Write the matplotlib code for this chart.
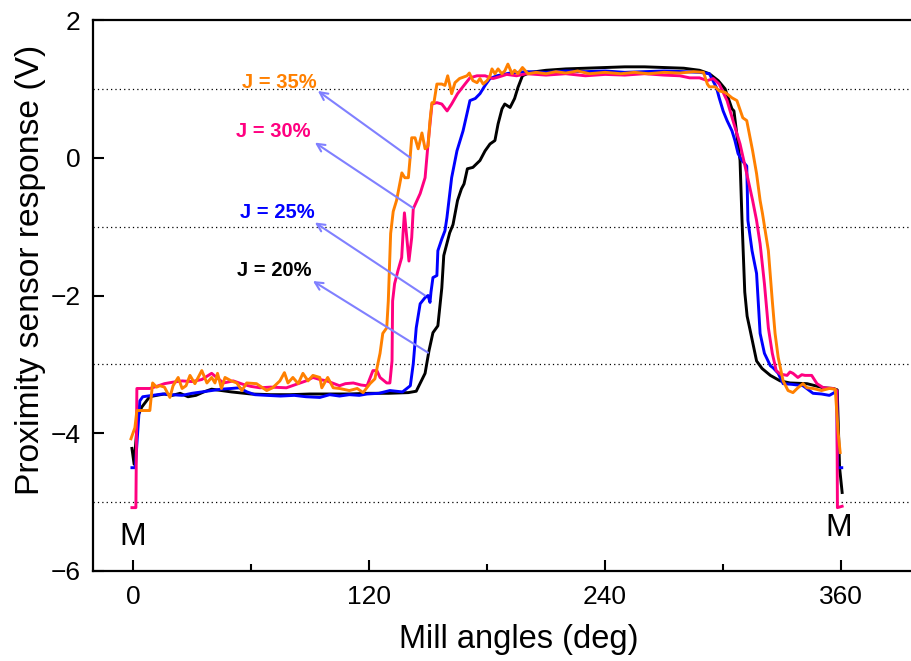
import matplotlib
matplotlib.use('Agg')
import matplotlib.pyplot as plt

plt.rcParams['font.family'] = ['Liberation Sans', 'DejaVu Sans']

# J = 20% (black)
ang20 = [-0.5, 0.6, 2.5, 4.5, 8.5, 12, 16, 20, 24, 28, 32, 36, 40, 45, 50, 60, 70, 80, 90,
         100, 110, 120, 130, 140, 144, 148.5, 150.5, 152.5, 155, 157, 158, 161, 162.7, 165,
         167, 168.3, 170, 172.8, 176.4, 179, 181.5, 184, 185.6, 187.6, 189, 191.7, 194, 195.7,
         198, 202, 210, 220, 230, 240, 250, 260, 270, 280, 288, 293, 297.5, 301, 304.5, 305.5,
         308.6, 309.6, 311, 312.2, 313.7, 317, 319.8, 324, 329, 334, 342.6, 351, 356, 358,
         359.2, 360.5]
v20 = [-4.22, -4.45, -3.75, -3.62, -3.47, -3.45, -3.43, -3.45, -3.42, -3.47, -3.45, -3.40,
       -3.36, -3.38, -3.40, -3.43, -3.44, -3.44, -3.43, -3.43, -3.43, -3.42, -3.42, -3.41,
       -3.39, -3.13, -2.80, -2.54, -2.44, -1.89, -1.42, -1.09, -0.97, -0.62, -0.45, -0.38,
       -0.16, -0.14, -0.04, 0.10, 0.20, 0.25, 0.49, 0.71, 0.78, 0.73, 0.86, 1.02, 1.19, 1.24,
       1.27, 1.29, 1.30, 1.31, 1.32, 1.32, 1.31, 1.30, 1.27, 1.22, 1.12, 1.00, 0.71, 0.68,
       -0.04, -0.91, -1.95, -2.30, -2.50, -2.95, -3.06, -3.16, -3.24, -3.27, -3.28, -3.34,
       -3.35, -3.37, -4.50, -4.86]

# J = 25% (blue)
ang25 = [-0.5, 1.2, 3.5, 5, 10, 15, 20, 25, 30, 35, 40, 45, 50, 54, 58, 62, 68, 75, 82, 88,
         95, 100, 105, 110, 115, 119, 125, 130.6, 137, 141, 142.5, 144, 146, 148.5, 150, 151,
         151.5, 152.5, 154.5, 155, 157, 158.6, 159.6, 162, 164.7, 167.8, 169.8, 171.3, 174,
         176.4, 179, 181.5, 185, 191.7, 200, 210, 220, 230, 240, 250, 260, 270, 280, 288, 293,
         296.6, 298, 300, 302, 304.5, 306, 307.6, 309.6, 312, 312.3, 312.6, 314.7, 317, 318.8,
         321, 324, 325.4, 328, 330.5, 335, 340.6, 345.7, 350, 354, 356.5, 357.8, 358.2, 360.3]
v25 = [-4.50, -4.50, -3.53, -3.47, -3.45, -3.43, -3.44, -3.45, -3.42, -3.40, -3.38, -3.36,
       -3.35, -3.34, -3.40, -3.44, -3.45, -3.46, -3.45, -3.47, -3.48, -3.44, -3.46, -3.44,
       -3.45, -3.43, -3.42, -3.38, -3.40, -3.31, -2.99, -2.47, -2.12, -2.03, -2.00, -2.10,
       -1.95, -1.74, -1.71, -1.35, -1.18, -1.06, -0.87, -0.29, 0.10, 0.39, 0.64, 0.83, 0.86,
       0.93, 1.05, 1.15, 1.19, 1.23, 1.25, 1.24, 1.26, 1.25, 1.26, 1.24, 1.25, 1.26, 1.25,
       1.24, 1.22, 1.02, 0.87, 0.68, 0.54, 0.39, 0.25, 0.06, -0.04, -0.12, -0.50, -0.91,
       -1.35, -1.68, -2.55, -2.84, -3.02, -3.05, -3.13, -3.28, -3.29, -3.31, -3.42, -3.43,
       -3.45, -3.41, -3.40, -4.50, -4.50]

# J = 30% (pink)
ang30 = [-0.5, 1.5, 2.0, 5, 8.6, 12, 16, 20, 25, 30, 35, 40, 43, 46, 51, 56, 60, 64.6, 70, 78,
         85, 88, 91.5, 95, 98.6, 105, 108, 112, 116, 119, 122, 124, 125.6, 129, 130.6, 131.7,
         132, 133, 134.7, 136.6, 137.3, 138, 139.5, 140.3, 141.7, 142.5, 146, 148.5, 150, 152,
         154.5, 157, 159.7, 162, 165, 168.8, 171.3, 174.9, 179, 183, 185.6, 190, 195, 200, 210,
         220, 230, 240, 250, 260, 270, 278, 283, 288, 292, 295, 298, 302, 305, 308.6, 312, 315,
         317, 318.8, 321, 323, 325, 327, 329, 332.5, 334, 335.5, 338, 340, 341.6, 345, 347.7,
         351, 356, 357.8, 358.1, 360.5]
v30 = [-5.08, -5.08, -3.35, -3.35, -3.35, -3.32, -3.28, -3.26, -3.24, -3.25, -3.22, -3.13,
       -3.20, -3.27, -3.24, -3.29, -3.32, -3.34, -3.33, -3.34, -3.27, -3.24, -3.19, -3.22,
       -3.24, -3.31, -3.28, -3.27, -3.30, -3.31, -3.09, -3.09, -3.19, -3.27, -3.27, -2.95,
       -2.08, -1.83, -1.64, -1.45, -1.10, -0.80, -1.25, -1.50, -1.16, -0.74, -0.52, -0.29,
       0.20, 0.78, 0.80, 0.78, 0.68, 0.78, 0.93, 1.07, 1.16, 1.19, 1.19, 1.15, 1.17, 1.21,
       1.19, 1.22, 1.20, 1.22, 1.19, 1.21, 1.20, 1.22, 1.20, 1.19, 1.16, 1.16, 1.12, 1.15,
       1.07, 0.83, 0.54, 0.20, -0.23, -0.62, -0.91, -1.25, -1.83, -2.47, -2.84, -3.09, -3.14,
       -3.16, -3.11, -3.13, -3.19, -3.15, -3.16, -3.16, -3.28, -3.34, -3.35, -3.38, -5.08,
       -5.06]

# J = 35% (orange)
ang35 = [-1, 1, 2, 5, 8.6, 10, 12, 13.7, 16, 18.8, 20.4, 23, 25, 27, 29, 31.5, 35, 37.6, 40,
         41.7, 43, 45, 46.8, 50, 52.8, 55.4, 57.8, 62.8, 68, 71, 74.7, 77, 78.8, 81.3, 84,
         86.4, 89, 91.5, 95, 96, 99, 101.8, 105, 110, 114, 117, 120.5, 123, 124.5, 125.6, 127,
         129, 129.8, 130.6, 131, 132.3, 134, 136.7, 138.2, 140, 140.9, 141.7, 143.4, 145,
         146.9, 148.5, 150, 151, 152, 153, 154.5, 157, 158.6, 160, 162, 163.7, 166, 169.8,
         171, 172.8, 174.9, 176.4, 178, 180, 181.5, 182.5, 184, 185.6, 187.5, 189, 190.6,
         192.7, 194, 195.7, 198, 200.8, 205, 210, 215, 220, 226, 232, 240, 248, 255, 262, 270,
         278, 285, 290, 292, 293, 296, 298, 301, 304.5, 307, 310, 312, 315, 317, 318.8, 320,
         323, 325, 326.4, 328, 330.5, 333, 335.5, 338, 340.6, 342.6, 345.7, 350, 354, 357,
         358.5, 359.5]
v35 = [-4.08, -3.92, -3.67, -3.67, -3.67, -3.27, -3.33, -3.31, -3.33, -3.48, -3.31, -3.19,
       -3.35, -3.31, -3.16, -3.28, -3.09, -3.27, -3.19, -3.27, -3.13, -3.35, -3.19, -3.24,
       -3.27, -3.38, -3.27, -3.28, -3.38, -3.34, -3.24, -3.12, -3.27, -3.19, -3.28, -3.13,
       -3.24, -3.16, -3.19, -3.34, -3.19, -3.34, -3.35, -3.38, -3.35, -3.41, -3.28, -3.21,
       -2.99, -2.84, -2.55, -2.47, -2.08, -1.45, -1.10, -0.78, -0.62, -0.22, -0.29, -0.29,
       0.00, 0.29, 0.29, 0.13, 0.36, 0.13, 0.17, 0.54, 0.80, 0.80, 1.07, 1.07, 1.05, 1.19,
       0.93, 1.09, 1.15, 1.19, 1.23, 1.12, 1.09, 1.15, 1.07, 1.12, 1.19, 1.29, 1.22, 1.29,
       1.22, 1.26, 1.36, 1.22, 1.27, 1.22, 1.31, 1.22, 1.24, 1.22, 1.25, 1.23, 1.26, 1.22,
       1.24, 1.22, 1.24, 1.22, 1.24, 1.23, 1.25, 1.24, 1.07, 1.03, 1.03, 0.97, 0.95, 0.87,
       0.83, 0.58, 0.54, 0.10, -0.23, -0.62, -0.81, -1.35, -2.08, -2.55, -2.90, -3.24, -3.38,
       -3.41, -3.34, -3.28, -3.34, -3.35, -3.38, -3.35, -3.36, -4.00, -4.28]

series = [(ang20, v20, '#000000'), (ang25, v25, '#0000FF'),
          (ang30, v30, '#FF0080'), (ang35, v35, '#FF8000')]

# labels: text, colour, text position, arrow head, arrow tail
labels = ['J = 35%', 'J = 30%', 'J = 25%', 'J = 20%']
label_colors = ['#FF8000', '#FF0080', '#0000FF', '#000000']
label_pos = [(55.4, 1.09), (52.4, 0.38), (54.4, -0.80), (52.9, -1.64)]
arrow_head = [(94, 0.97), (92.5, 0.22), (92.5, -0.94), (91.5, -1.79)]
arrow_tail = [(141, 0.0), (142.4, -0.73), (148.5, -2.0), (150, -2.83)]

fig = plt.figure(figsize=(9.11, 6.61), dpi=100)
ax = fig.add_axes([93 / 911, 1 - 571 / 661, 1 - 93 / 911, (571 - 20) / 661])

for y in [-5, -3, -1, 1]:
    ax.axhline(y, color='black', lw=0.9, ls=(0, (1, 2.5)), zorder=1)

for a, v, c in series:
    ax.plot(a, v, color=c, lw=2.1, zorder=3)

for t, c, p, h, tl in zip(labels, label_colors, label_pos, arrow_head, arrow_tail):
    ax.text(p[0], p[1], t, color=c, fontsize=14.5, fontweight='bold', ha='left', va='center')
    ax.annotate('', xy=h, xytext=tl,
                arrowprops=dict(arrowstyle='->', color='#8080FF', lw=1.5,
                                shrinkA=0, shrinkB=0, mutation_scale=14), zorder=4)

ax.text(0, -5.5, 'M', fontsize=23, ha='center', va='center')
ax.text(358.5, -5.38, 'M', fontsize=23, ha='center', va='center')

ax.set_xlim(-20.3, 395.5)
ax.set_ylim(-6, 2)
ax.set_xticks([0, 120, 240, 360])
ax.set_xticks([60, 180, 300], minor=True)
ax.set_yticks([-6, -4, -2, 0, 2])
ax.tick_params(which='major', direction='in', length=8, width=1.5, labelsize=19, pad=10)
ax.tick_params(which='minor', direction='in', length=5, width=1.5)
ax.tick_params(axis='y', pad=9)
ax.spines['right'].set_visible(False)
for s in ['left', 'bottom', 'top']:
    ax.spines[s].set_linewidth(1.6)

ax.set_xlabel('Mill angles (deg)', fontsize=23.5, va='center')
ax.set_ylabel('Proximity sensor response (V)', fontsize=24.2, va='center')
ax.xaxis.set_label_coords(0.52, -0.125)
ax.yaxis.set_label_coords(-0.077, 0.546)

fig.savefig('out.png', dpi=100)
